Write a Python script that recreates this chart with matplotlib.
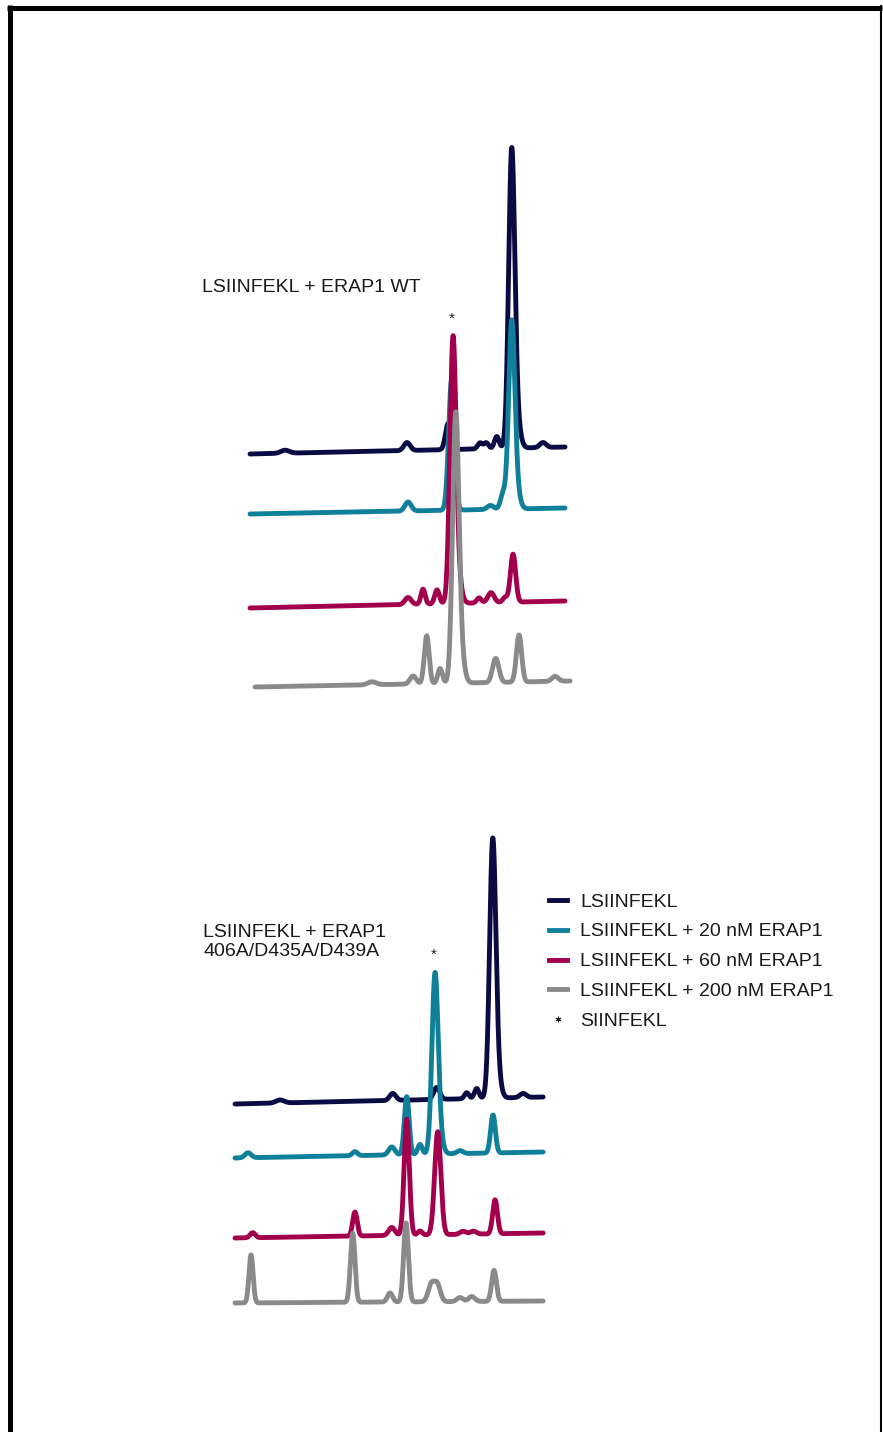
import numpy as np
import matplotlib
matplotlib.use("Agg")
import matplotlib.pyplot as plt
from matplotlib.lines import Line2D

plt.rcParams["font.family"] = ["Liberation Sans", "DejaVu Sans"]

# ---------------------------------------------------------------------------
# Chromatogram data: retention time (min), absorbance (mAU, stacked offsets)
# Each peak is (retention time, height, width sigma)
# ---------------------------------------------------------------------------
series_labels = ["LSIINFEKL",
                 "LSIINFEKL + 20 nM ERAP1",
                 "LSIINFEKL + 60 nM ERAP1",
                 "LSIINFEKL + 200 nM ERAP1"]
series_colors = ["#0b0b44", "#10809a", "#a2004d", "#8a8a8a"]
marker_label = "SIINFEKL"

run_time = (0.0, 30.0)

# Panel A: ERAP1 WT
wt_baseline_start = [246, 186, 92, 13]
wt_baseline_end = [253, 192, 99, 19]
wt_time_shift = [0.0, 0.0, 0.0, 0.48]
wt_peaks_0 = [(3.33, 3, 0.4), (14.95, 8, 0.3), (18.86, 26, 0.25), (21.9, 6, 0.22),
              (22.5, 6, 0.22), (23.5, 12, 0.22), (24.92, 290, 0.29), (25.38, 25, 0.35),
              (27.9, 5, 0.3)]
wt_peaks_1 = [(15.05, 9, 0.3), (19.2, 130, 0.28), (22.9, 4, 0.3), (24.1, 15, 0.25),
              (24.92, 180, 0.29), (25.33, 18, 0.35)]
wt_peaks_2 = [(15.05, 7, 0.3), (16.48, 15, 0.2), (17.81, 14, 0.22), (19.33, 258, 0.29),
              (19.78, 22, 0.35), (21.81, 5, 0.22), (22.95, 10, 0.3), (24.29, 5, 0.22),
              (25.05, 48, 0.25)]
wt_peaks_3 = [(11.14, 3, 0.4), (15.05, 8, 0.3), (16.35, 48, 0.23), (17.62, 15, 0.22),
              (19.11, 261, 0.3), (19.58, 25, 0.35), (22.92, 24, 0.3), (25.14, 47, 0.25),
              (28.57, 5, 0.3)]
wt_star = (19.24, 381)

# Panel B: ERAP1 406A/D435A/D439A
mut_baseline_start = [216, 162, 82, 17]
mut_baseline_end = [223, 168, 87, 19]
mut_time_shift = [0.0, 0.0, 0.0, 0.0]
mut_peaks_0 = [(4.38, 3, 0.4), (15.36, 7, 0.3), (19.64, 12, 0.3), (22.56, 6, 0.22),
               (23.53, 10, 0.22), (25.09, 251, 0.3), (25.53, 20, 0.35), (28.04, 4, 0.3)]
mut_peaks_1 = [(1.27, 5, 0.3), (11.68, 4, 0.25), (15.26, 8, 0.3), (16.72, 58, 0.23),
               (18.01, 10, 0.22), (19.47, 174, 0.3), (19.88, 15, 0.35), (21.9, 3, 0.3),
               (25.12, 38, 0.23)]
mut_peaks_2 = [(1.72, 5, 0.25), (11.68, 24, 0.22), (15.26, 8, 0.3), (16.72, 116, 0.25),
               (18.01, 4, 0.22), (19.74, 103, 0.3), (22.2, 3, 0.3), (23.2, 3, 0.3),
               (25.32, 34, 0.23)]
mut_peaks_3 = [(1.56, 48, 0.2), (11.46, 69, 0.22), (15.09, 9, 0.25), (16.65, 79, 0.23),
               (19.1, 17, 0.3), (19.7, 17, 0.3), (21.9, 4, 0.3), (23.05, 5, 0.3),
               (25.22, 31, 0.23)]
mut_star = (19.38, 365)

panel_titles = ["LSIINFEKL + ERAP1 WT", "LSIINFEKL + ERAP1\n406A/D435A/D439A"]

W, H = 883, 1432
fig = plt.figure(figsize=(W / 100, H / 100), dpi=100)


def box(x0, y0, x1, y1):
    """Figure-fraction rectangle from pixel edges (origin top-left)."""
    return [x0 / W, 1 - y1 / H, (x1 - x0) / W, (y1 - y0) / H]


def trace(t, b0, b1, peaks):
    y = b0 + (b1 - b0) * (t - run_time[0]) / (run_time[1] - run_time[0])
    for c, h, s in peaks:
        y = y + h * np.exp(-0.5 * ((t - c) / s) ** 2)
    return y


t = np.linspace(run_time[0], run_time[1], 3000)


def draw_panel(ax, b0s, b1s, shifts, peak_sets, star):
    for i, (b0, b1, sh, pk) in enumerate(zip(b0s, b1s, shifts, peak_sets)):
        ax.plot(t + sh, trace(t, b0, b1, pk), color=series_colors[i], lw=3.5,
                solid_capstyle="round", solid_joinstyle="round", zorder=2 + i)
    ax.text(star[0], star[1], "*", ha="center", va="center", fontsize=11,
            color="#222222")
    ax.set_axis_off()


ax1 = fig.add_axes(box(230, 130, 590, 700))
ax1.set_xlim(-1.905, 32.38)
ax1.set_ylim(0, 570)
draw_panel(ax1, wt_baseline_start, wt_baseline_end, wt_time_shift,
           [wt_peaks_0, wt_peaks_1, wt_peaks_2, wt_peaks_3], wt_star)

ax2 = fig.add_axes(box(215, 820, 565, 1320))
ax2.set_xlim(-1.947, 32.13)
ax2.set_ylim(0, 500)
draw_panel(ax2, mut_baseline_start, mut_baseline_end, mut_time_shift,
           [mut_peaks_0, mut_peaks_1, mut_peaks_2, mut_peaks_3], mut_star)

# Panel annotations
fig.text(202 / W, 1 - 287 / H, panel_titles[0], ha="left", va="center",
         fontsize=14, color="#1a1a1a")
fig.text(203 / W, 1 - 942 / H, panel_titles[1], ha="left", va="center",
         fontsize=14, color="#1a1a1a", linespacing=1.08)

# Legend
handles = [Line2D([], [], color=c, lw=3.5) for c in series_colors]
handles.append(Line2D([], [], color="#222222", ls="none", marker=(6, 2, 0),
                      markersize=4, markeredgewidth=0.8))
fig.legend(handles, series_labels + [marker_label], loc="upper left",
           bbox_to_anchor=(549 / W, 1 - 893 / H), frameon=False, fontsize=14,
           handlelength=0.95, handletextpad=0.67, labelspacing=0.63,
           borderpad=0, borderaxespad=0, labelcolor="#1a1a1a")

# Frame around the figure (left, top and right edges)
fig.add_artist(Line2D([9.5 / W, 9.5 / W], [0, 1 - 5 / H], color="black",
                      lw=3.6, transform=fig.transFigure, solid_capstyle="butt"))
fig.add_artist(Line2D([7 / W, 882 / W], [1 - 7.5 / H, 1 - 7.5 / H], color="black",
                      lw=3.6, transform=fig.transFigure, solid_capstyle="butt"))
fig.add_artist(Line2D([881 / W, 881 / W], [0, 1 - 5 / H], color="black",
                      lw=1.5, transform=fig.transFigure, solid_capstyle="butt"))

fig.savefig("out.png", dpi=100, facecolor="white")
